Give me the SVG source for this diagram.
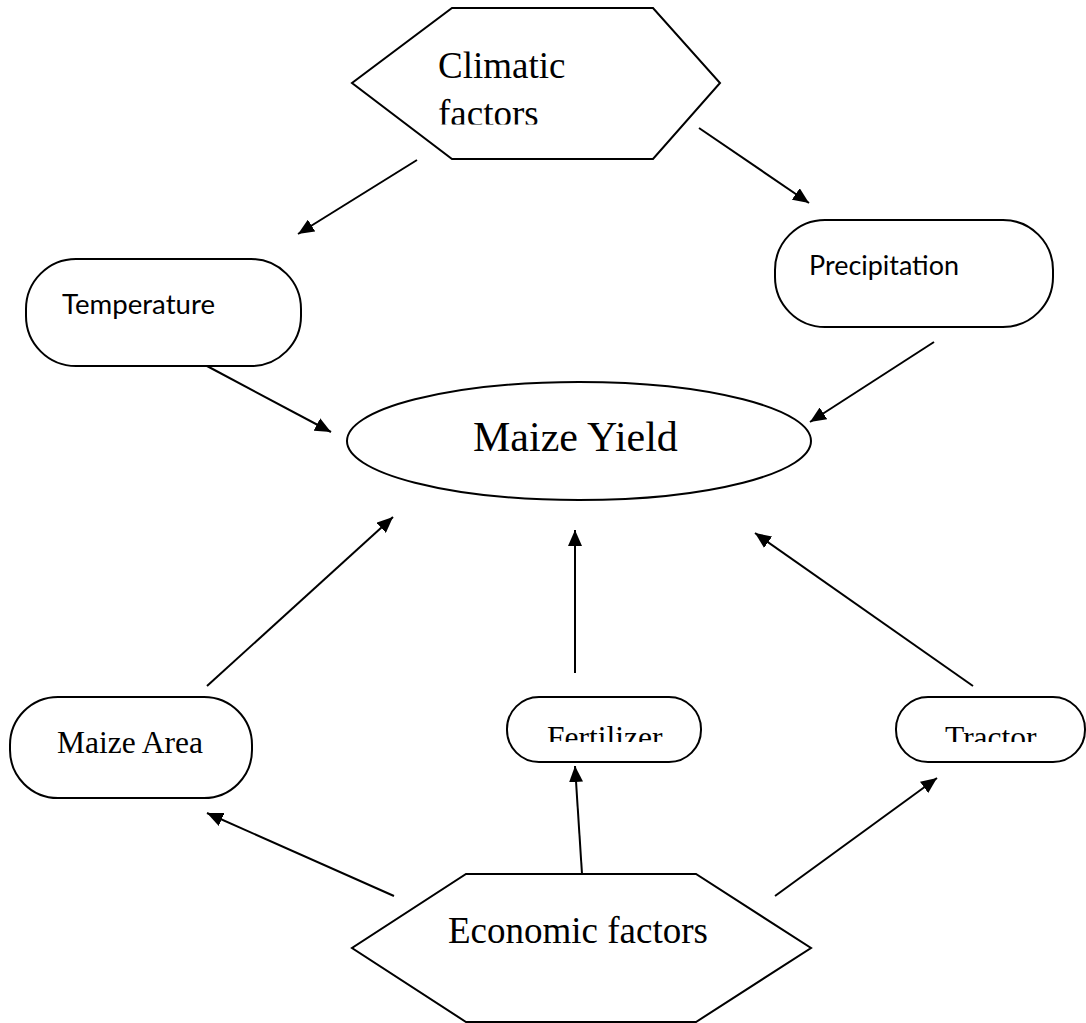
<svg xmlns="http://www.w3.org/2000/svg" width="1086" height="1023" viewBox="0 0 1086 1023">
<style>
.shape{fill:#fff;stroke:#000;stroke-width:2}
.serif{font-family:"Liberation Serif","Times New Roman",serif;fill:#000}
.sans{font-family:Lato,"Noto Sans",sans-serif;fill:#000}
.conn line{stroke:#000;stroke-width:2;marker-end:url(#arr)}
</style>
<defs>
<marker id="arr" markerUnits="userSpaceOnUse" markerWidth="18" markerHeight="14" refX="16" refY="7" orient="auto">
<path d="M0,0 L16,7 L0,14 Z" fill="#000"/>
</marker>
<clipPath id="clipC"><rect x="340" y="0" width="400" height="124.5"/></clipPath>
<clipPath id="clipF"><rect x="0" y="680" width="1086" height="62"/></clipPath>
</defs>
<rect width="1086" height="1023" fill="#fff"/>
<g id="climatic">
<polygon class="shape" points="452,8 653,8 720,83 653,159 452,159 352,83"/>
<g clip-path="url(#clipC)">
<text class="serif" x="438" y="78" font-size="37">Climatic</text>
<text class="serif" x="438" y="126" font-size="37">factors</text>
</g>
</g>
<g id="temperature">
<rect class="shape" x="26" y="259" width="275" height="107" rx="50" ry="50"/>
<text class="sans" x="62" y="314" font-size="26" textLength="153" lengthAdjust="spacingAndGlyphs">Temperature</text>
</g>
<g id="precipitation">
<rect class="shape" x="775" y="220" width="278" height="107" rx="50" ry="50"/>
<text class="sans" x="809" y="275" font-size="26" textLength="150" lengthAdjust="spacingAndGlyphs">Precipitation</text>
</g>
<g id="maize-yield">
<ellipse class="shape" cx="579" cy="441" rx="232" ry="59"/>
<text class="serif" x="473" y="451" font-size="42">Maize Yield</text>
</g>
<g id="maize-area">
<rect class="shape" x="10" y="697" width="242" height="101" rx="48" ry="48"/>
<text class="serif" x="57" y="753" font-size="31.5">Maize Area</text>
</g>
<g id="fertilizer">
<rect class="shape" x="507" y="697" width="194" height="65" rx="32" ry="32"/>
<text class="serif" x="547" y="748" font-size="31.5" clip-path="url(#clipF)">Fertilizer</text>
</g>
<g id="tractor">
<rect class="shape" x="896" y="697" width="189" height="65" rx="32" ry="32"/>
<text class="serif" x="945" y="748" font-size="31.5" clip-path="url(#clipF)">Tractor</text>
</g>
<g id="economic">
<polygon class="shape" points="466,874 696,874 811,948 696,1022 466,1022 352,948"/>
<text class="serif" x="448" y="943" font-size="37">Economic factors</text>
</g>
<g class="conn" id="connectors">
<line x1="417" y1="160" x2="298" y2="234"/>
<line x1="699" y1="128" x2="809" y2="203"/>
<line x1="207" y1="366" x2="331" y2="432"/>
<line x1="934" y1="342" x2="810" y2="422"/>
<line x1="207" y1="686" x2="393" y2="517"/>
<line x1="575" y1="673" x2="575" y2="530"/>
<line x1="973" y1="686" x2="755" y2="533"/>
<line x1="394" y1="896" x2="207" y2="813"/>
<line x1="582" y1="874" x2="575" y2="766"/>
<line x1="775" y1="896" x2="937" y2="778"/>
</g>
</svg>
